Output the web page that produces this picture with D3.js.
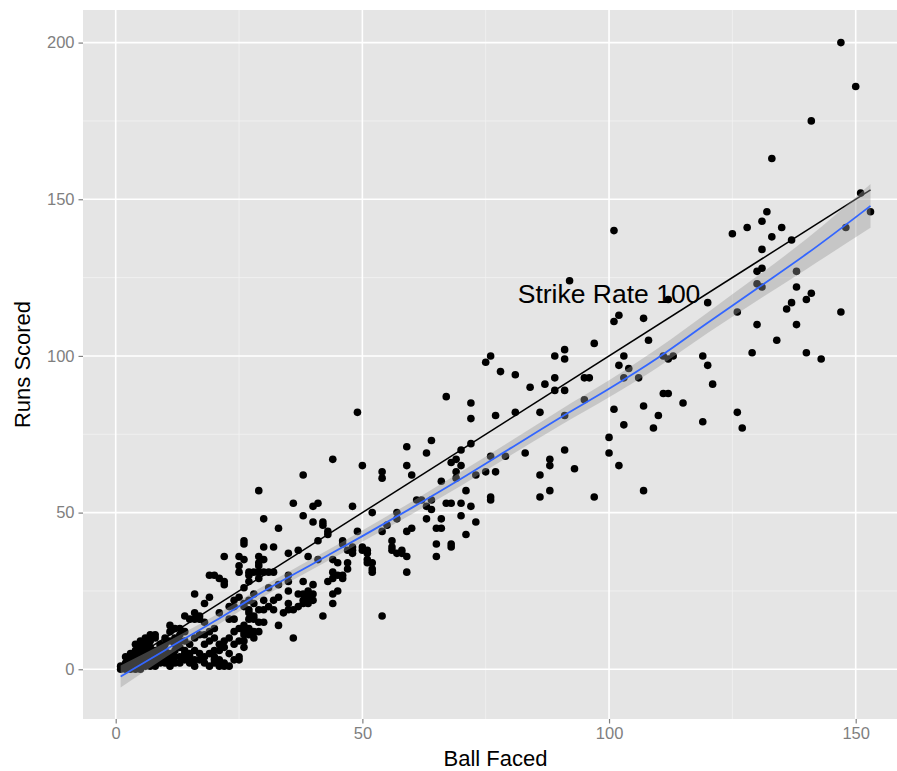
<!DOCTYPE html>
<html>
<head>
<meta charset="utf-8">
<script src="https://cdn.jsdelivr.net/npm/d3@7"></script>
<style>
  html, body { margin: 0; padding: 0; background: #ffffff; }
  svg { display: block; }
</style>
</head>
<body>
<svg id="chart" width="897" height="771"></svg>
<script>
// ---------------- DATA ----------------
// [balls faced, runs scored] for each innings
const inningsHigh = [
  [147,200],[150,186],[141,175],[133,163],[151,152],[153,146],[148,141],[101,140],[125,139],[128,141],
  [131,143],[132,146],[135,141],[133,138],[137,137],[131,134],[130,127],[131,128],[130,123],[131,122],
  [138,127],[138,122],[141,120],[140,118],[137,117],[136,115],[147,114],[126,114],[130,110],[138,110],
  [134,105],[129,101],[140,101],[143,99],[120,117],[108,105],[107,112],[101,111],[102,113],[112,118],
  [103,100],[102,97],[104,96],[103,93],[106,93],[111,100],[112,99],[113,100],[119,100],[120,97],
  [121,91],[111,88],[112,88],[115,85],[101,83],[107,84],[110,81],[103,78],[109,77],[119,79],
  [126,82],[127,77],[100,74],[100,69],[102,65],[107,57]
];
const inningsMid = [
  [92,124],[97,104],[91,102],[89,100],[91,99],[76,100],[75,98],[78,95],[81,94],[84,90],
  [87,91],[89,93],[89,89],[91,89],[95,93],[96,93],[95,86],[91,81],[86,82],[81,82],
  [77,81],[72,85],[72,80],[67,87],[91,70],[93,64],[97,55],[86,62],[88,67],[88,65],
  [88,57],[86,55],[83,69],[79,68],[76,68],[77,63],[75,63],[73,62],[71,57],[76,55],
  [72,72],[70,70],[69,67],[68,66],[70,65],[69,63],[69,61],[66,60],[64,73],[63,69],
  [59,71],[59,65],[60,62],[54,63],[54,61],[76,54],[61,54],[62,54],[64,54],[63,52],
  [64,51],[67,53],[68,53],[70,53],[72,52],[57,50],[57,48],[63,48],[66,48],[70,49],
  [73,47],[59,44],[60,45],[65,45],[66,45],[71,43],[65,40],[68,40],[68,39],[65,36],
  [56,41],[56,38],[58,38],[59,36],[59,31],[57,37],[58,37],[56,39]
];
const inningsLowMid = [
  [48,52],[41,53],[40,52],[38,49],[40,47],[42,47],[42,46],[43,44],[43,43],[41,41],
  [39,36],[41,35],[38,28],[40,27],[39,25],[38,24],[39,22],[40,22],[38,21],[39,21],
  [42,17],[43,28],[44,31],[44,29],[45,30],[44,24],[44,21],[45,25],[46,30],[46,29],
  [47,34],[47,32],[45,34],[44,35],[46,41],[46,40],[48,39],[48,37],[49,44],[50,39],
  [51,38],[51,35],[51,34],[52,34],[52,32],[52,50],[54,44],[55,46],[54,17],[49,82],
  [44,67],[50,65],[38,62],[47,38],[48,38],[50,38],[51,37],[52,31]
];
const inningsLow = [
  [29,57],[36,53],[30,48],[33,45],[26,41],[26,40],[30,39],[32,39],[37,38],[35,37],
  [26,35],[29,36],[29,34],[30,35],[31,31],[30,31],[25,33],[27,31],[28,31],[27,30],
  [29,29],[32,31],[31,26],[33,27],[35,28],[35,30],[35,25],[37,24],[38,22],[37,20],
  [39,23],[40,24],[26,26],[26,21],[28,24],[28,21],[25,23],[27,22],[30,22],[32,22],
  [30,19],[32,19],[35,21],[35,19],[36,19],[33,14],[27,18],[28,17],[29,15],[30,15],
  [26,14],[27,13],[28,12],[26,11],[36,10],[22,36],[25,36],[22,27],[25,31],[27,28],
  [29,33],[29,31],[24,22],[24,20],[23,16],[26,20],[27,19],[29,19],[27,16],[28,16],
  [25,13],[26,12],[27,11],[28,10],[26,9],[29,12],[25,9],[24,8],[26,7],[25,4],
  [25,3],[23,1],[22,2],[21,3],[20,3],[33,23],[31,20],[34,18],[24,16],[23,20],
  [24,12],[23,10],[22,9],[23,5]
];
const inningsShort = [
  [19,30],[20,30],[21,29],[22,28],[16,24],[19,23],[18,21],[14,17],[16,18],[16,16],
  [21,18],[17,17],[17,16],[15,16],[8,11],[11,12],[11,14],[18,15],[19,12],[20,10],
  [21,8],[22,7],[20,6],[19,9],[18,11],[20,13],[12,13],[13,11],[14,9],[15,8],
  [16,10],[13,7],[12,6],[15,5],[16,6],[14,5],[11,9],[10,6],[12,4],[9,3],
  [10,2],[11,1],[13,2],[14,3],[15,2],[16,1],[17,3],[18,2],[19,1],[20,2],
  [21,1],[22,1],[24,3],[12,8],[13,13],[17,11],[18,8],[14,12],[10,10],[9,8],
  [11,5],[1,0],[1,1],[2,0],[2,1],[2,2],[3,1],[3,2],[3,3],[4,2],
  [4,4],[5,3],[5,5],[6,4],[6,6],[7,5],[7,7],[8,6],[3,5],[4,6],
  [5,7],[6,8],[7,9],[8,10],[5,1],[6,2],[7,3],[8,2],[4,0],[5,0],
  [6,1],[7,1],[8,1],[9,2],[9,5],[8,4],[3,0],[2,4],[6,10],[7,11],
  [5,9],[4,8],[9,7],[10,4],[11,3],[12,2],[13,4],[14,6],[15,4],[16,3],
  [17,5],[18,4],[19,5],[20,4],[21,6],[12,10],[13,9],[10,8]
];

// loess smooth (blue line) and its standard-error half-width
const smoothX  = [1, 10, 20, 30, 40, 50, 60, 70, 80, 90, 100, 110, 120, 130, 140, 153];
const smoothY  = [-2.3, 6.1, 15.3, 24.9, 33.7, 42.5, 51.5, 60.8, 70.5, 80.2, 89.5, 99.5, 110.6, 121.5, 132.5, 147.9];
const smoothSE = [3.5, 2.4, 1.8, 1.7, 1.7, 1.8, 2.0, 2.2, 2.3, 2.5, 2.7, 3.0, 3.3, 3.9, 4.8, 7.0];

// strike-rate-100 reference line (runs = balls)
const refLineX = [1, 153];

// annotation
const labelText = "Strike Rate 100";
const labelPos = [100, 120];

// axes
const xTicks = [0, 50, 100, 150];
const xMinor = [25, 75, 125];
const yTicks = [0, 50, 100, 150, 200];
const yMinor = [25, 75, 125, 175];
const xTitle = "Ball Faced";
const yTitle = "Runs Scored";

// ---------------- DRAW ----------------
const innings = [].concat(inningsHigh, inningsMid, inningsLowMid, inningsLow, inningsShort);

const panel = { left: 83, top: 10, right: 908, bottom: 719 };
const fontFamily = "'Liberation Sans', Arial, Helvetica, sans-serif";

const x = d3.scaleLinear().domain([-6.63, 160.6]).range([panel.left, panel.right]);
const y = d3.scaleLinear().domain([-15.87, 210.4]).range([panel.bottom, panel.top]);

const svg = d3.select("#chart");

svg.append("defs").append("clipPath").attr("id", "panelClip")
  .append("rect")
  .attr("x", panel.left).attr("y", panel.top)
  .attr("width", panel.right - panel.left).attr("height", panel.bottom - panel.top);

// panel background
svg.append("rect")
  .attr("x", panel.left).attr("y", panel.top)
  .attr("width", panel.right - panel.left).attr("height", panel.bottom - panel.top)
  .attr("fill", "#E5E5E5");

const grid = svg.append("g").attr("clip-path", "url(#panelClip)");
// minor grid
grid.selectAll("line.xminor").data(xMinor).join("line")
  .attr("x1", d => x(d)).attr("x2", d => x(d))
  .attr("y1", panel.top).attr("y2", panel.bottom)
  .attr("stroke", "#F2F2F2").attr("stroke-width", 0.8);
grid.selectAll("line.yminor").data(yMinor).join("line")
  .attr("y1", d => y(d)).attr("y2", d => y(d))
  .attr("x1", panel.left).attr("x2", panel.right)
  .attr("stroke", "#F2F2F2").attr("stroke-width", 0.8);
// major grid
grid.selectAll("line.xmajor").data(xTicks).join("line")
  .attr("x1", d => x(d)).attr("x2", d => x(d))
  .attr("y1", panel.top).attr("y2", panel.bottom)
  .attr("stroke", "#FFFFFF").attr("stroke-width", 1.6);
grid.selectAll("line.ymajor").data(yTicks).join("line")
  .attr("y1", d => y(d)).attr("y2", d => y(d))
  .attr("x1", panel.left).attr("x2", panel.right)
  .attr("stroke", "#FFFFFF").attr("stroke-width", 1.6);

const plot = svg.append("g").attr("clip-path", "url(#panelClip)");

// points
plot.selectAll("circle.pt").data(innings).join("circle")
  .attr("class", "pt")
  .attr("cx", d => x(d[0])).attr("cy", d => y(d[1]))
  .attr("r", 3.8).attr("fill", "#000000");

// strike rate 100 line
plot.append("path")
  .datum(refLineX)
  .attr("d", d3.line().x(d => x(d)).y(d => y(d)))
  .attr("fill", "none").attr("stroke", "#000000").attr("stroke-width", 1.5);

// annotation
plot.append("text")
  .attr("x", x(labelPos[0])).attr("y", y(labelPos[1]))
  .attr("dy", "0.36em")
  .attr("text-anchor", "middle")
  .attr("font-family", fontFamily).attr("font-size", 26.5)
  .attr("fill", "#000000")
  .text(labelText);

// confidence band
const smooth = smoothX.map((v, i) => ({ x: v, y: smoothY[i], se: smoothSE[i] }));
plot.append("path")
  .datum(smooth)
  .attr("d", d3.area().curve(d3.curveMonotoneX)
    .x(d => x(d.x)).y0(d => y(d.y - d.se)).y1(d => y(d.y + d.se)))
  .attr("fill", "#999999").attr("fill-opacity", 0.4);

// loess line
plot.append("path")
  .datum(smooth)
  .attr("d", d3.line().curve(d3.curveMonotoneX).x(d => x(d.x)).y(d => y(d.y)))
  .attr("fill", "none").attr("stroke", "#3366FF").attr("stroke-width", 1.8);

// axes
const xAxis = d3.axisBottom(x).tickValues(xTicks).tickSize(4.5).tickSizeOuter(0).tickPadding(4);
const gx = svg.append("g").attr("transform", `translate(0,${panel.bottom})`).call(xAxis);
gx.select(".domain").remove();
gx.selectAll(".tick line").attr("stroke", "#7F7F7F").attr("stroke-width", 1.2);
gx.selectAll(".tick text")
  .attr("fill", "#7F7F7F").attr("font-family", fontFamily).attr("font-size", 16.5)
  .attr("dy", "0.71em");

const yAxis = d3.axisLeft(y).tickValues(yTicks).tickSize(4.5).tickSizeOuter(0).tickPadding(4);
const gy = svg.append("g").attr("transform", `translate(${panel.left},0)`).call(yAxis);
gy.select(".domain").remove();
gy.selectAll(".tick line").attr("stroke", "#7F7F7F").attr("stroke-width", 1.2);
gy.selectAll(".tick text")
  .attr("fill", "#7F7F7F").attr("font-family", fontFamily).attr("font-size", 16.5);

// axis titles
svg.append("text")
  .attr("x", (panel.left + panel.right) / 2).attr("y", 766)
  .attr("text-anchor", "middle")
  .attr("font-family", fontFamily).attr("font-size", 22)
  .attr("fill", "#000000")
  .text(xTitle);

svg.append("text")
  .attr("transform", `translate(29.5,${(panel.top + panel.bottom) / 2}) rotate(-90)`)
  .attr("text-anchor", "middle")
  .attr("font-family", fontFamily).attr("font-size", 22)
  .attr("fill", "#000000")
  .text(yTitle);
</script>
</body>
</html>
